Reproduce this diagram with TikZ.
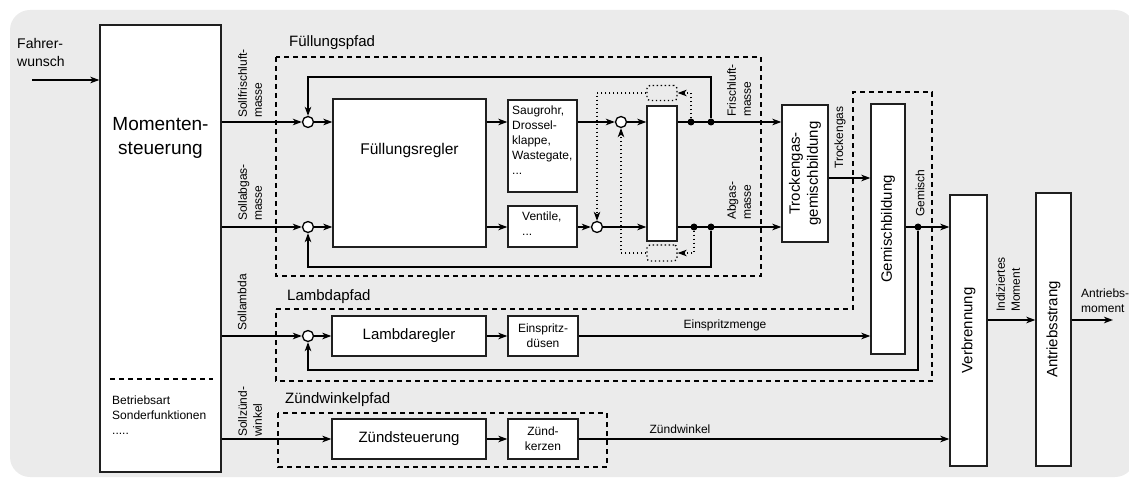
\documentclass[tikz,border=0pt]{standalone}
\usepackage{fontspec}
\setmainfont{Liberation Sans}
\usetikzlibrary{arrows.meta,calc}
\definecolor{bgc}{RGB}{235,235,235}
\newcommand\fsz[2]{\fontsize{#1}{#2}\selectfont}
\begin{document}
\begin{tikzpicture}[x=1pt,y=-1pt,
 blk/.style={draw=black!88,line width=1.3pt,fill=white,inner sep=0pt},
 tip/.style={-{Stealth[length=9pt,width=6.5pt,inset=2.5pt]}},
 sig/.style={line width=1.6pt,tip},
 ln/.style={line width=1.6pt},
 fb/.style={line width=1.3pt,tip},
 jdot/.style={circle,fill=black,inner sep=0pt,minimum size=7pt},
 sumj/.style={circle,draw,line width=1.3pt,fill=white,inner sep=0pt,minimum size=11pt},
 reg/.style={line width=1.2pt,dash pattern=on 5pt off 4pt},
 dly/.style={line width=1.3pt,dash pattern=on 1.3pt off 2.7pt},
 dlytip/.style={dly,tip},
 big/.style={font=\fsz{19}{24}},
 mid/.style={font=\fsz{15}{18}},
 sml/.style={font=\fsz{12}{15}},
 rl/.style={sml,rotate=90,anchor=west,align=left,inner sep=0pt},
]
\useasboundingbox (0,0) rectangle (1129,478);
\fill[bgc,rounded corners=20pt] (10,10) rectangle (1135,477);

% dashed regions
\draw[reg] (276,57) rectangle (761,276);
\draw[reg] (276,309) -- (853,309) -- (853,92) -- (932,92) -- (932,381) -- (276,381) -- cycle;
\draw[reg] (278,413) rectangle (607,467);
\node[mid,anchor=west,inner sep=0pt] (lfp) at (289,43) {Füllungspfad};
\node[mid,anchor=west,inner sep=0pt] (llp) at (287,297) {Lambdapfad};
\node[mid,anchor=west,inner sep=0pt] (lzp) at (285,400) {Zündwinkelpfad};

% boxes
\node[blk,minimum width=121pt,minimum height=447pt] (ms) at (160.5,248.5) {};
\node[big,align=center] (mst) at (160.5,138) {Momenten-\\steuerung};
\draw[reg] (110,379) -- (213,379);
\node[sml,anchor=north west,align=left,inner sep=0pt] (bsf) at (112,396) {Betriebsart\\Sonderfunktionen\\.....};

\node[blk,minimum width=153pt,minimum height=148pt] (fr) at (409.5,173) {};
\node[font=\fsz{15.5}{18}] (frt) at (409.5,150) {Füllungsregler};
\node[blk,minimum width=69pt,minimum height=92pt] (sr) at (542.5,146) {};
\node[sml,anchor=north west,align=left,inner sep=0pt] (srt) at (512,106) {Saugrohr,\\Drossel-\\klappe,\\Wastegate,\\...};
\node[blk,minimum width=69pt,minimum height=41pt] (ve) at (542.5,226.5) {};
\node[sml,anchor=north west,align=left,inner sep=0pt] (vet) at (522,212) {Ventile,\\...};
\node[blk,minimum width=30pt,minimum height=135pt] (tb) at (662,173.5) {};
\node[blk,minimum width=46pt,minimum height=137pt] (tg) at (805,173.5) {};
\node[mid,rotate=90,align=center] (tgt) at (805,173.5) {Trockengas-\\gemischbildung};
\node[blk,minimum width=34pt,minimum height=250pt] (gb) at (888,229) {};
\node[mid,rotate=90] (gbt) at (888,229) {Gemischbildung};
\node[blk,minimum width=154pt,minimum height=40pt,mid] (lr) at (409,336) {Lambdaregler};
\node[blk,minimum width=70pt,minimum height=40pt,sml,align=center] (ed) at (543,336) {Einspritz-\\düsen};
\node[blk,minimum width=154pt,minimum height=40pt,mid] (zs) at (409,439) {Zündsteuerung};
\node[blk,minimum width=70pt,minimum height=40pt,sml,align=center] (zk) at (543,439) {Zünd-\\kerzen};
\node[blk,minimum width=37pt,minimum height=271pt] (vb) at (968.5,330.5) {};
\node[mid,rotate=90] (vbt) at (968.5,330.5) {Verbrennung};
\node[blk,minimum width=35pt,minimum height=273pt] (as) at (1053.5,329.5) {};
\node[mid,rotate=90] (ast) at (1053.5,329.5) {Antriebsstrang};

% delay boxes (dotted)
\node[draw,dly,rounded corners=3pt,minimum width=30pt,minimum height=15pt,inner sep=0pt] (ub) at (662,93) {};
\node[draw,dly,rounded corners=3pt,minimum width=30pt,minimum height=16pt,inner sep=0pt] (lb) at (662,253) {};

% junctions
\node[sumj] (j1) at (308,122) {};
\node[sumj] (j2) at (308,227) {};
\node[sumj] (j3) at (621,122) {};
\node[sumj] (j4) at (597,227) {};
\node[sumj] (j5) at (308,336) {};
\node[jdot] (d1) at (691,122) {};
\node[jdot] (d2) at (711,122) {};
\node[jdot] (d3) at (694,227) {};
\node[jdot] (d4) at (711,227) {};
\node[jdot] (dg) at (918,227) {};
\coordinate (fw) at (32,80);
\coordinate (fbt) at (308,77);
\coordinate (fbb) at (308,267);
\coordinate (fbl) at (308,370);
\coordinate (ty) at (840,178);
\coordinate (im) at (1000,320);
\coordinate (am) at (1113,320);

% Fahrerwunsch
\node[font=\fsz{14}{18},anchor=north west,align=left,inner sep=0pt] (fwt) at (17,38) {Fahrer-\\wunsch};
\draw[sig] (fw) -- (ms.west|-fw);

% Füllungspfad signals
\draw[sig] (ms.east|-j1) -- (j1);
\draw[sig] (ms.east|-j2) -- (j2);
\draw[sig] (j1) -- (fr.west|-j1);
\draw[sig] (j2) -- (fr.west|-j2);
\draw[sig] (fr.east|-j1) -- (sr.west|-j1);
\draw[sig] (fr.east|-j2) -- (ve.west|-j2);
\draw[sig] (sr.east|-j3) -- (j3);
\draw[sig] (ve.east|-j4) -- (j4);
\draw[sig] (j3) -- (tb.west|-j3);
\draw[sig] (j4) -- (tb.west|-j4);
\draw[sig] (tb.east|-j3) -- (tg.west|-j3);
\draw[sig] (tb.east|-j4) -- (tg.west|-j4);
\draw[fb] (d2) |- (fbt) -- (j1);
\draw[fb] (d4) |- (fbb) -- (j2);
\draw[dlytip] (d1) |- (ub.east);
\draw[dlytip] (ub.west) -| (j4);
\draw[dlytip] (d3) |- (lb.east);
\draw[dlytip] (lb.west) -| (j3);

% Lambda
\draw[sig] (ms.east|-j5) -- (j5);
\draw[sig] (j5) -- (lr.west);
\draw[sig] (lr.east) -- (ed.west);
\draw[sig] (ed.east) -- (gb.west|-ed.east);
\draw[sig] (tg.east|-ty) -- (gb.west|-ty);
\draw[sig] (gb.east|-dg) -- (vb.west|-dg);
\draw[fb] (dg) |- (fbl) -- (j5);

% Zündwinkel
\draw[sig] (ms.east|-zs.west) -- (zs.west);
\draw[sig] (zs.east) -- (zk.west);
\draw[sig] (zk.east) -- (vb.west|-zk.east);

% output
\draw[sig] (vb.east|-im) -- (as.west|-im);
\draw[sig] (as.east|-am) -- (am);

% labels
\node[rl] (l1) at (250,118) {Sollfrischluft-\\masse};
\node[rl] (l2) at (250,221) {Sollabgas-\\masse};
\node[rl] (l3) at (242,331) {Sollambda};
\node[rl] (l4) at (250,437) {Sollzünd-\\winkel};
\node[rl] (l5) at (739,117) {Frischluft-\\masse};
\node[rl] (l6) at (739,220) {Abgas-\\masse};
\node[rl] (l7) at (840,169) {Trockengas};
\node[rl] (l8) at (920,217) {Gemisch};
\node[rl] (l9) at (1008,312) {Indiziertes\\Moment};
\node[sml] (l10) at (725,325) {Einspritzmenge};
\node[sml] (l11) at (680,429) {Zündwinkel};
\node[sml,anchor=north west,align=left,inner sep=0pt] (l12) at (1081,289) {Antriebs-\\moment};
\end{tikzpicture}
\end{document}
